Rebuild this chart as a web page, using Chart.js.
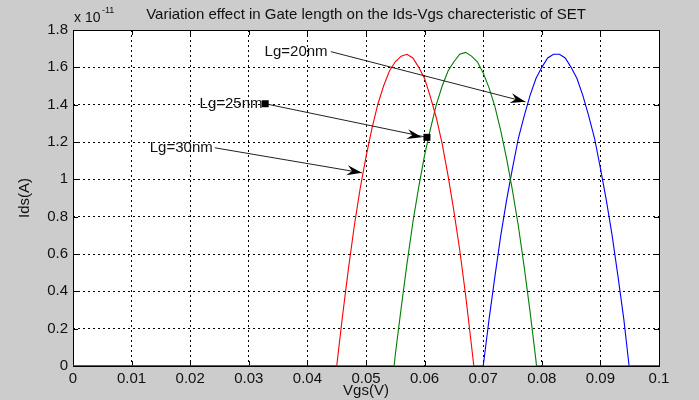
<!DOCTYPE html>
<html>
<head>
<meta charset="utf-8">
<script src="https://cdn.jsdelivr.net/npm/chart.js@4.4.0/dist/chart.umd.min.js"></script>
<style>
    html, body { margin: 0; padding: 0; background: #cccccc; }
    #wrap { width: 699px; height: 400px; }
</style>
</head>
<body>
<div id="wrap"><canvas id="idsChart" width="699" height="400"></canvas></div>
<script>
// Vgs (V) and Ids (x 1e-11 A)
const vgsLg30 = [0, 0.045, 0.046, 0.047, 0.048, 0.049, 0.050, 0.051, 0.052, 0.053, 0.054, 0.055, 0.056,
    0.057, 0.058, 0.059, 0.060, 0.061, 0.062, 0.063, 0.064, 0.065, 0.066, 0.067, 0.068, 0.0684, 0.1];
const idsLg30 = [0, 0, 0.27, 0.52, 0.75, 0.95, 1.12, 1.27, 1.40, 1.50, 1.58, 1.63, 1.66,
    1.67, 1.65, 1.60, 1.54, 1.44, 1.33, 1.19, 1.02, 0.83, 0.62, 0.38, 0.11, 0, 0];

const vgsLg25 = [0, 0.0548, 0.055, 0.056, 0.057, 0.058, 0.059, 0.060, 0.061, 0.062, 0.063, 0.064, 0.065,
    0.066, 0.067, 0.068, 0.069, 0.070, 0.071, 0.072, 0.073, 0.074, 0.075, 0.076, 0.077, 0.078, 0.079, 0.0791, 0.1];
const idsLg25 = [0, 0, 0.06, 0.31, 0.55, 0.77, 0.96, 1.13, 1.27, 1.40, 1.50, 1.58, 1.63,
    1.67, 1.68, 1.66, 1.63, 1.57, 1.49, 1.39, 1.26, 1.11, 0.94, 0.75, 0.53, 0.29, 0.03, 0, 0];

const vgsLg20 = [0, 0.070, 0.071, 0.072, 0.073, 0.074, 0.075, 0.076, 0.077, 0.078, 0.079, 0.080, 0.081,
    0.082, 0.083, 0.084, 0.085, 0.086, 0.087, 0.088, 0.089, 0.090, 0.091, 0.092, 0.093, 0.094, 0.0949, 0.1];
const idsLg20 = [0, 0, 0.25, 0.48, 0.70, 0.89, 1.06, 1.22, 1.34, 1.45, 1.54, 1.60, 1.65,
    1.67, 1.67, 1.65, 1.60, 1.54, 1.45, 1.34, 1.22, 1.06, 0.89, 0.70, 0.48, 0.25, 0, 0];

// text arrows (data units)
const noteLabels = ['Lg=20nm', 'Lg=25nm', 'Lg=30nm'];
const noteTextX = [0.0327, 0.0216, 0.0131];
const noteTextY = [1.684, 1.405, 1.169];
const noteFromX = [0.0440, 0.0328, 0.0242];
const noteFromY = [1.684, 1.405, 1.169];
const noteToX = [0.0772, 0.0604, 0.0493];
const noteToY = [1.415, 1.225, 1.035];
const noteSquares = [false, true, false];

const chartTitle = 'Variation effect in Gate length on the Ids-Vgs charecteristic of SET';

function toPoints(xs, ys) {
    return xs.map((x, i) => ({ x: x, y: ys[i] }));
}

function drawArrowHead(ctx, x1, y1, x2, y2) {
    const ang = Math.atan2(y2 - y1, x2 - x1);
    ctx.save();
    ctx.translate(x2, y2);
    ctx.rotate(ang);
    ctx.beginPath();
    ctx.moveTo(0, 0);
    ctx.lineTo(-15, -5);
    ctx.lineTo(-10, 0);
    ctx.lineTo(-15, 5);
    ctx.closePath();
    ctx.fill();
    ctx.restore();
}

const matlabLook = {
    id: 'matlabLook',
    beforeDraw(chart) {
        const { ctx, chartArea: a } = chart;
        ctx.save();
        ctx.fillStyle = '#cccccc';
        ctx.fillRect(0, 0, chart.width, chart.height);
        ctx.fillStyle = '#ffffff';
        ctx.fillRect(a.left, a.top, a.right - a.left, a.bottom - a.top);
        ctx.restore();
    },
    beforeDatasetsDraw(chart) {
        // box and inward ticks, under the curves
        const { ctx, chartArea: a } = chart;
        const xs = chart.scales.x, ys = chart.scales.y;
        ctx.save();
        ctx.strokeStyle = '#000';
        ctx.lineWidth = 1;
        ctx.strokeRect(Math.round(a.left) + 0.5, Math.round(a.top) + 0.5,
            Math.round(a.right - a.left), Math.round(a.bottom - a.top));
        ctx.beginPath();
        xs.ticks.forEach(t => {
            const px = Math.round(xs.getPixelForValue(t.value)) + 0.5;
            ctx.moveTo(px, a.bottom); ctx.lineTo(px, a.bottom - 5);
            ctx.moveTo(px, a.top); ctx.lineTo(px, a.top + 5);
        });
        ys.ticks.forEach(t => {
            const py = Math.round(ys.getPixelForValue(t.value)) + 0.5;
            ctx.moveTo(a.left, py); ctx.lineTo(a.left + 5, py);
            ctx.moveTo(a.right, py); ctx.lineTo(a.right - 5, py);
        });
        ctx.stroke();
        ctx.restore();
    },
    afterDraw(chart) {
        const { ctx, chartArea: a } = chart;
        const xs = chart.scales.x, ys = chart.scales.y;
        ctx.save();

        // annotations
        ctx.fillStyle = '#111';
        ctx.strokeStyle = '#222';
        ctx.lineWidth = 1;
        ctx.font = '15px "Liberation Sans", Arial, sans-serif';
        ctx.textBaseline = 'middle';
        ctx.textAlign = 'left';
        noteLabels.forEach((label, i) => {
            const tx = xs.getPixelForValue(noteTextX[i]);
            const ty = ys.getPixelForValue(noteTextY[i]);
            const fx = xs.getPixelForValue(noteFromX[i]);
            const fy = ys.getPixelForValue(noteFromY[i]);
            const ex = xs.getPixelForValue(noteToX[i]);
            const ey = ys.getPixelForValue(noteToY[i]);
            ctx.fillText(label, tx, ty);
            ctx.beginPath();
            ctx.moveTo(fx, fy);
            ctx.lineTo(ex, ey);
            ctx.stroke();
            ctx.fillStyle = '#000';
            if (noteSquares[i]) {
                drawArrowHead(ctx, fx, fy, ex - 5, ey);
                ctx.fillRect(fx - 3.5, fy - 3.5, 7, 7);
                ctx.fillRect(ex - 3.5, ey - 3.5, 7, 7);
            } else {
                drawArrowHead(ctx, fx, fy, ex, ey);
            }
            ctx.fillStyle = '#111';
        });

        // title and exponent
        ctx.textAlign = 'center';
        ctx.font = '15px "Liberation Sans", Arial, sans-serif';
        ctx.fillText(chartTitle, (a.left + a.right) / 2, 15);
        ctx.textAlign = 'left';
        ctx.font = '14px "Liberation Sans", Arial, sans-serif';
        ctx.fillText('x 10', a.left + 1, 18);
        ctx.font = '9px "Liberation Sans", Arial, sans-serif';
        ctx.fillText('-11', a.left + 29, 11);
        ctx.restore();
    }
};

const tickFont = { family: '"Liberation Sans", Arial, sans-serif', size: 15 };
const titleFont = { family: '"Liberation Sans", Arial, sans-serif', size: 15 };

const ctx = document.getElementById('idsChart').getContext('2d');
const idsChart = new Chart(ctx, {
    type: 'line',
    data: {
        datasets: [
            { label: 'Lg=30nm', data: toPoints(vgsLg30, idsLg30), borderColor: '#ff0000' },
            { label: 'Lg=25nm', data: toPoints(vgsLg25, idsLg25), borderColor: '#008000' },
            { label: 'Lg=20nm', data: toPoints(vgsLg20, idsLg20), borderColor: '#0000ff' }
        ]
    },
    options: {
        responsive: false,
        animation: false,
        events: [],
        elements: {
            line: { borderWidth: 1.1, tension: 0, fill: false },
            point: { radius: 0 }
        },
        layout: { padding: { top: 30, right: 40, left: 0, bottom: 0 } },
        plugins: {
            legend: { display: false },
            tooltip: { enabled: false },
            title: { display: false }
        },
        scales: {
            x: {
                type: 'linear',
                min: 0,
                max: 0.1,
                afterFit: scale => { scale.height = 34; },
                ticks: {
                    stepSize: 0.01,
                    color: '#111',
                    font: tickFont,
                    padding: 4,
                    maxRotation: 0,
                    callback: v => String(+v.toFixed(2))
                },
                grid: { color: '#000', lineWidth: 1, drawTicks: false },
                border: { display: false, dash: [2, 3] },
                title: {
                    display: true,
                    text: 'Vgs(V)',
                    color: '#111',
                    font: titleFont,
                    padding: { top: 0, bottom: 0 }
                }
            },
            y: {
                type: 'linear',
                min: 0,
                max: 1.8,
                afterFit: scale => { scale.width = 73; },
                ticks: {
                    stepSize: 0.2,
                    color: '#111',
                    font: tickFont,
                    padding: 5,
                    callback: v => String(+v.toFixed(1))
                },
                grid: { color: '#000', lineWidth: 1, drawTicks: false },
                border: { display: false, dash: [2, 3] },
                title: {
                    display: true,
                    text: 'Ids(A)',
                    color: '#111',
                    font: titleFont,
                    padding: { top: 16, bottom: 0 }
                }
            }
        }
    },
    plugins: [matlabLook]
});
</script>
</body>
</html>
